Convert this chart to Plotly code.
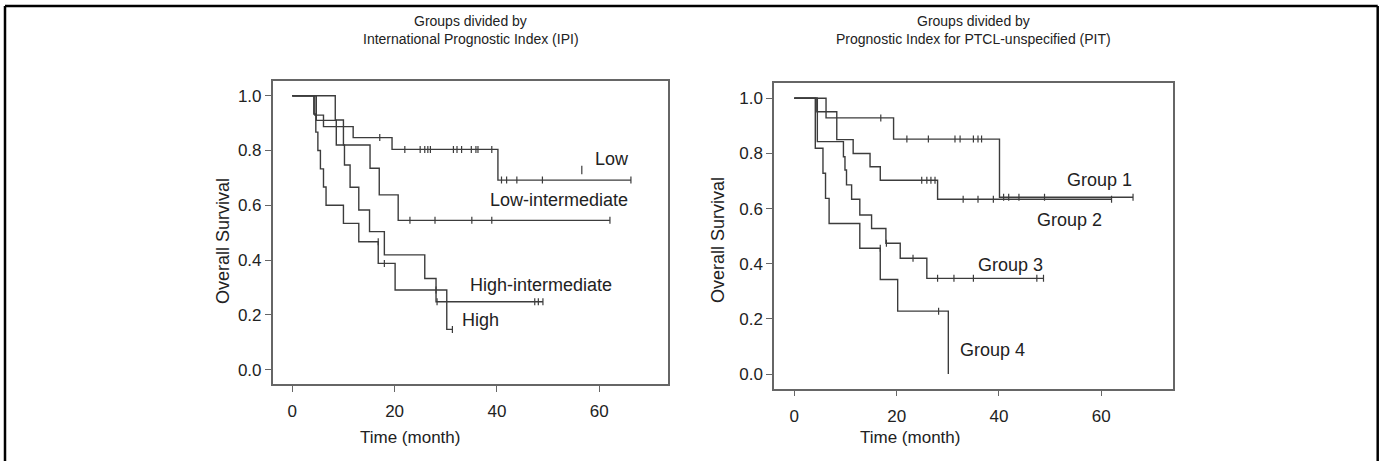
import plotly.graph_objects as go

# ---------------- data ----------------
# Left panel: IPI groups  (step times in months, survival after each step)
low_t = [0, 4.4, 6.1, 11.9, 19.5, 40.2, 66.2]
low_s = [1.0, 0.929, 0.887, 0.847, 0.804, 0.692, 0.692]
low_c = [17.1, 22.0, 25.0, 25.9, 26.5, 27.0, 31.5, 32.2, 33.1, 35.0, 35.9, 36.3, 39.0,
         40.9, 41.9, 43.9, 48.9, 66.2]

li_t = [0, 8.4, 10.0, 15.2, 17.0, 20.7, 62.1]
li_s = [1.0, 0.911, 0.82, 0.735, 0.638, 0.545, 0.545]
li_c = [23.0, 27.9, 35.1, 39.0, 62.1]

hi_t = [0, 4.7, 8.6, 10.2, 11.3, 13.0, 15.1, 18.0, 25.9, 28.1, 49.0]
hi_s = [1.0, 0.91, 0.82, 0.747, 0.666, 0.583, 0.504, 0.419, 0.333, 0.248, 0.248]
hi_c = [28.3, 47.4, 48.1, 49.0]

high_t = [0, 4.2, 4.6, 5.0, 5.5, 6.1, 6.6, 10.0, 13.0, 16.8, 20.1, 30.2, 31.3]
high_s = [1.0, 0.933, 0.867, 0.80, 0.733, 0.667, 0.60, 0.534, 0.467, 0.388, 0.291, 0.147, 0.147]
high_c = [16.8, 18.0, 28.1, 31.3]

# Right panel: PIT groups
g1_t = [0, 6.2, 19.4, 40.1, 66.2]
g1_s = [1.0, 0.929, 0.852, 0.641, 0.641]
g1_c = [16.9, 22.0, 26.2, 31.4, 32.4, 35.0, 35.9, 36.6, 40.9, 41.9, 43.9, 48.9, 66.2]

g2_t = [0, 4.4, 8.3, 11.5, 14.8, 16.8, 28.0, 62.0]
g2_s = [1.0, 0.951, 0.85, 0.80, 0.752, 0.703, 0.634, 0.634]
g2_c = [24.9, 25.9, 26.7, 27.5, 33.0, 35.9, 38.9, 62.0]

g3_t = [0, 4.5, 9.6, 9.9, 10.2, 11.2, 12.8, 15.1, 17.9, 20.7, 25.9, 48.7]
g3_s = [1.0, 0.843, 0.788, 0.74, 0.686, 0.634, 0.577, 0.528, 0.474, 0.42, 0.347, 0.347]
g3_c = [18.0, 23.2, 28.0, 31.2, 35.0, 47.4, 48.7]

g4_t = [0, 4.1, 5.6, 6.1, 6.8, 12.8, 16.8, 20.2, 30.1]
g4_s = [1.0, 0.819, 0.728, 0.637, 0.546, 0.456, 0.343, 0.228, 0.0]
g4_c = [16.8, 28.2]

# labels (text, x in months, y in survival)
ipi_labels = ["Low", "Low-intermediate", "High-intermediate", "High"]
ipi_label_x = [58.8, 38.3, 34.4, 32.8]
ipi_label_y = [0.769, 0.620, 0.309, 0.181]
pointer_x = [56.6]
pointer_y = [0.729]

pit_labels = ["Group 1", "Group 2", "Group 3", "Group 4"]
pit_label_x = [52.9, 47.0, 35.6, 32.0]
pit_label_y = [0.704, 0.559, 0.395, 0.087]

y_ticks = [0.0, 0.2, 0.4, 0.6, 0.8, 1.0]
x_ticks = [0, 20, 40, 60]

titles_left = ["Groups divided by", "International Prognostic Index (IPI)"]
titles_right = ["Groups divided by", "Prognostic Index for PTCL-unspecified (PIT)"]

# ---------------- figure ----------------
W, H = 1383, 461
LINE = "#3c3c3c"
TXT = "#222222"
FONT = "Liberation Sans, Arial, sans-serif"


def surv_at(ts, ss, c):
    val = ss[0]
    for t, s in zip(ts, ss):
        if t < c - 1e-9:
            val = s
    return val


fig = go.Figure()


def add_curve(ts, ss, cs, xa, ya):
    fig.add_trace(go.Scatter(x=ts, y=ss, mode="lines", line_shape="hv",
                             line=dict(color=LINE, width=1.4),
                             xaxis=xa, yaxis=ya, showlegend=False, hoverinfo="skip"))
    fig.add_trace(go.Scatter(x=cs, y=[surv_at(ts, ss, c) for c in cs], mode="markers",
                             marker=dict(symbol="line-ns", size=5,
                                         line=dict(color=LINE, width=1.2)),
                             xaxis=xa, yaxis=ya, showlegend=False, hoverinfo="skip"))


add_curve(low_t, low_s, low_c, "x", "y")
add_curve(li_t, li_s, li_c, "x", "y")
add_curve(hi_t, hi_s, hi_c, "x", "y")
add_curve(high_t, high_s, high_c, "x", "y")
fig.add_trace(go.Scatter(x=pointer_x, y=pointer_y, mode="markers",
                         marker=dict(symbol="line-ns", size=6, line=dict(color=LINE, width=1.2)),
                         xaxis="x", yaxis="y", showlegend=False, hoverinfo="skip"))

add_curve(g1_t, g1_s, g1_c, "x2", "y2")
add_curve(g2_t, g2_s, g2_c, "x2", "y2")
add_curve(g3_t, g3_s, g3_c, "x2", "y2")
add_curve(g4_t, g4_s, g4_c, "x2", "y2")

axis_common = dict(showline=True, linecolor="#666666", linewidth=1.5, mirror=True,
                   showgrid=False, zeroline=False, ticks="outside", ticklen=6,
                   tickcolor="#666666", tickwidth=1.2,
                   tickfont=dict(family=FONT, size=17, color=TXT))

fig.update_layout(
    width=W, height=H,
    margin=dict(l=0, r=0, t=0, b=0),
    paper_bgcolor="white", plot_bgcolor="white",
    xaxis=dict(domain=[272.7 / W, 668 / W], range=[-3.83, 73.45], tickvals=x_ticks,
               anchor="y", ticklabelstandoff=5, **axis_common),
    yaxis=dict(domain=[1 - 384.3 / H, 1 - 81 / H], range=[-0.0533, 1.0536],
               tickvals=y_ticks, tickformat=".1f", anchor="x", **axis_common),
    xaxis2=dict(domain=[774 / W, 1173 / W], range=[-3.97, 74.01], tickvals=x_ticks,
                anchor="y2", ticklabelstandoff=5, **axis_common),
    yaxis2=dict(domain=[1 - 388.7 / H, 1 - 82.7 / H], range=[-0.0533, 1.0566],
                tickvals=y_ticks, tickformat=".1f", anchor="x2", **axis_common),
)

ann = []
for txt, x, y in zip(ipi_labels, ipi_label_x, ipi_label_y):
    ann.append(dict(text=txt, x=x, y=y, xref="x", yref="y", xanchor="left", yanchor="middle",
                    showarrow=False, font=dict(family=FONT, size=18, color=TXT)))
for txt, x, y in zip(pit_labels, pit_label_x, pit_label_y):
    ann.append(dict(text=txt, x=x, y=y, xref="x2", yref="y2", xanchor="left", yanchor="middle",
                    showarrow=False, font=dict(family=FONT, size=18, color=TXT)))

# panel titles
for cx, lines in [(470.5, titles_left), (973.5, titles_right)]:
    for i, line in enumerate(lines):
        ann.append(dict(text=line, x=cx / W, y=1 - (21 + 18 * i) / H, xref="paper", yref="paper",
                        xanchor="center", yanchor="middle", showarrow=False,
                        font=dict(family=FONT, size=14, color=TXT)))

# axis titles
for cx in [410, 910]:
    ann.append(dict(text="Time (month)", x=cx / W, y=1 - 437 / H, xref="paper", yref="paper",
                    xanchor="center", yanchor="middle", showarrow=False,
                    font=dict(family=FONT, size=17, color=TXT)))
for cx, cy in [(223, 241), (718, 240)]:
    ann.append(dict(text="Overall Survival", x=cx / W, y=1 - cy / H, xref="paper", yref="paper",
                    xanchor="center", yanchor="middle", showarrow=False, textangle=-90,
                    font=dict(family=FONT, size=18, color=TXT)))

fig.update_layout(annotations=ann)

# outer frame (left, top, right)
bl, bt, br = 5 / W, 1 - 6 / H, 1377.7 / W
for x0, y0, x1, y1 in [(bl, 0, bl, bt), (bl, bt, br, bt), (br, bt, br, 0)]:
    fig.add_shape(type="line", x0=x0, y0=y0, x1=x1, y1=y1, xref="paper", yref="paper",
                  line=dict(color="black", width=2.5))

fig.write_html("out.html", config={"displayModeBar": False},
               post_script="document.body.style.margin='0';document.body.style.overflow='hidden';")
